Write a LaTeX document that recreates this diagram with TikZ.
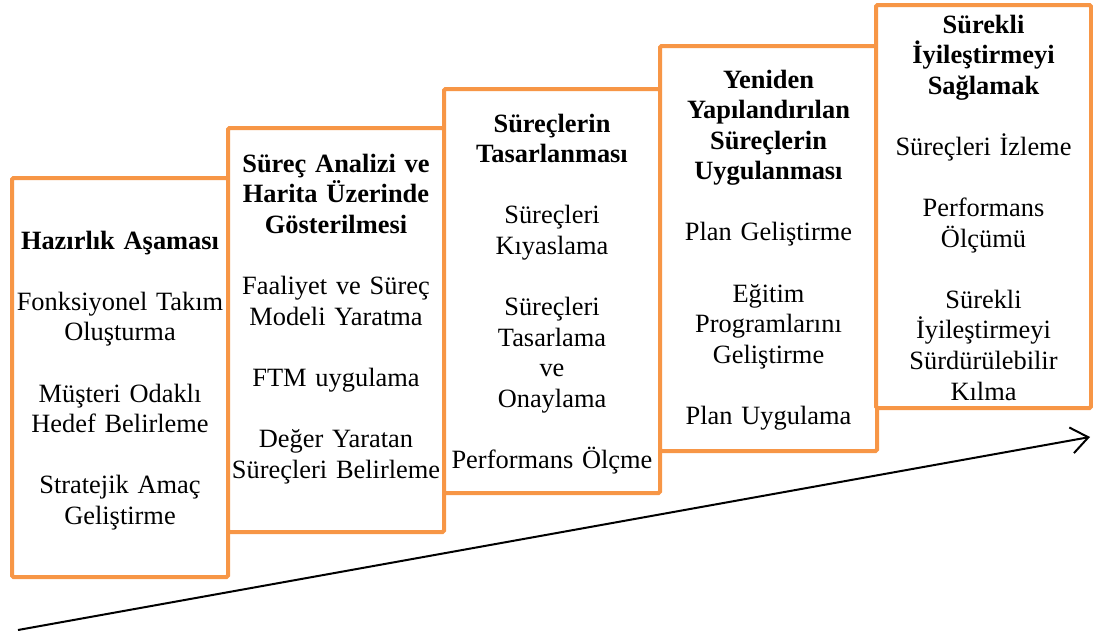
\documentclass[tikz,border=0pt]{standalone}
\usepackage{fontspec}
\setmainfont{Liberation Serif}
\usetikzlibrary{arrows.meta}
\definecolor{stageorange}{HTML}{F79646}
\begin{document}
\begin{tikzpicture}[x=1pt,y=-1pt,
  stagebox/.style={draw=stageorange, line width=4pt, fill=white,
    rounded corners=1.5pt, inner sep=0pt, minimum width=216pt},
  stagetext/.style={anchor=base, inner sep=0pt, text width=240pt,
    align=center, font=\fontsize{26.4}{30.6}\selectfont},
  trend/.style={line width=2pt, -{Straight Barb[length=17pt,width=26pt,line width=2pt]}}]

\useasboundingbox (0,0) rectangle (1093,637);

% five stages, rising step by step
\node[stagebox, minimum height=399pt] (b1) at (120,377.5) {};
\node[stagebox, minimum height=404pt] (b2) at (336,330) {};
\node[stagebox, minimum height=404pt] (b3) at (552,291) {};
\node[stagebox, minimum width=217pt, minimum height=405pt] (b4) at (768.5,248.5) {};
\node[stagebox, minimum width=215pt, minimum height=403pt] (b5) at (983.5,206.5) {};

% stage contents
\node[stagetext] (t1) at (120,249) {\textbf{Hazırlık Aşaması}\\[30.6pt]
  Fonksiyonel Takım\\Oluşturma\\[30.6pt]
  Müşteri Odaklı\\Hedef Belirleme\\[30.6pt]
  Stratejik Amaç\\Geliştirme};

\node[stagetext] (t2) at (336,172) {\textbf{Süreç Analizi ve}\\\textbf{Harita Üzerinde}\\\textbf{Gösterilmesi}\\[30.6pt]
  Faaliyet ve Süreç\\Modeli Yaratma\\[30.6pt]
  FTM uygulama\\[30.6pt]
  Değer Yaratan\\Süreçleri Belirleme};

\node[stagetext] (t3) at (552,132) {\textbf{Süreçlerin}\\\textbf{Tasarlanması}\\[30.6pt]
  Süreçleri\\Kıyaslama\\[30.6pt]
  Süreçleri\\Tasarlama\\ve\\Onaylama\\[30.6pt]
  Performans Ölçme};

\node[stagetext] (t4) at (768.5,88) {\textbf{Yeniden}\\\textbf{Yapılandırılan}\\\textbf{Süreçlerin}\\\textbf{Uygulanması}\\[30.6pt]
  Plan Geliştirme\\[30.6pt]
  Eğitim\\Programlarını\\Geliştirme\\[30.6pt]
  Plan Uygulama};

\node[stagetext] (t5) at (983.5,33) {\textbf{Sürekli}\\\textbf{İyileştirmeyi}\\\textbf{Sağlamak}\\[30.6pt]
  Süreçleri İzleme\\[30.6pt]
  Performans\\Ölçümü\\[30.6pt]
  Sürekli\\İyileştirmeyi\\Sürdürülebilir\\Kılma};

% rising trend arrow under the stages
\coordinate (trendstart) at (18,630);
\coordinate (trendend) at (1090,437);
\draw[trend] (trendstart) -- (trendend);
\end{tikzpicture}
\end{document}
